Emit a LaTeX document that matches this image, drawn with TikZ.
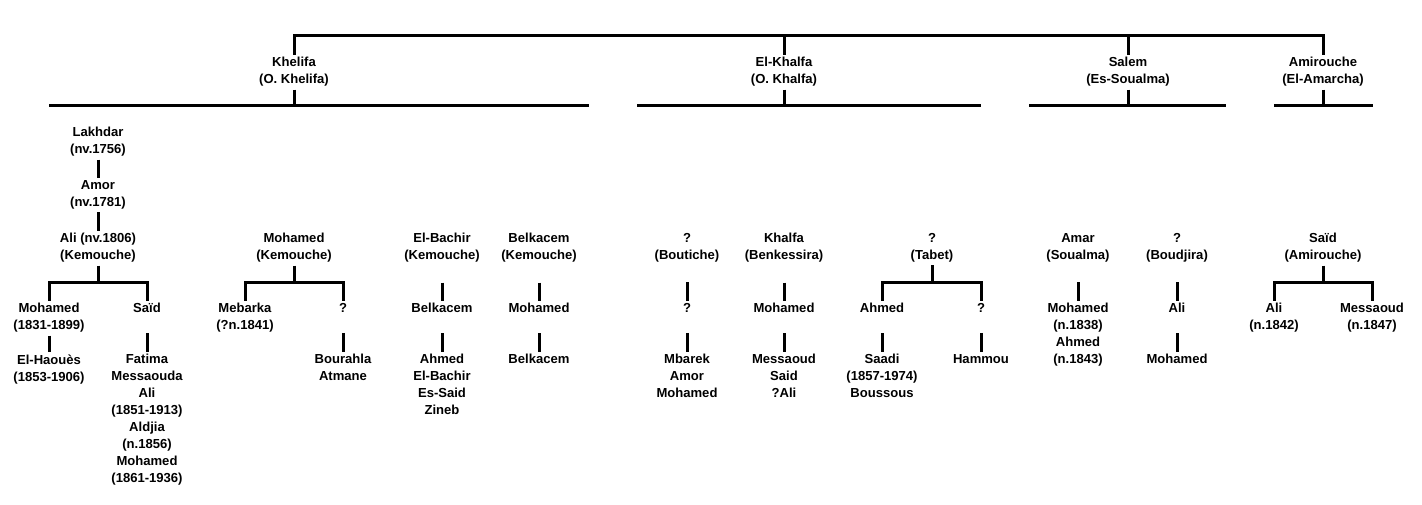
\documentclass[tikz,border=0pt]{standalone}
\usepackage{fontspec}
\setmainfont{Liberation Sans}
\begin{document}
\begin{tikzpicture}[x=0.75pt, y=-0.75pt,
  person/.style={anchor=north, align=center, inner xsep=1pt, inner ysep=2pt,
    font=\fontsize{9.8}{12.75}\selectfont\bfseries},
  link/.style={line width=2.25pt}]
\useasboundingbox (0,0) rectangle (1422,504);
% tribes
\node[person] (khelifa)   at (294,54.5)  {Khelifa\\(O. Khelifa)};
\node[person] (elkhalfa)  at (784,54.5)  {El-Khalfa\\(O. Khalfa)};
\node[person] (salem)     at (1128,54.5) {Salem\\(Es-Soualma)};
\node[person] (amirouche) at (1323,54.5) {Amirouche\\(El-Amarcha)};
\draw[link] (khelifa.north) -- ++(0,-19) -| (amirouche.north);
\draw[link] (elkhalfa.north) -- ++(0,-19);
\draw[link] (salem.north) -- ++(0,-19);
\coordinate (khL) at (49,105);   \coordinate (khR) at (589,105);
\coordinate (ekL) at (637,105);  \coordinate (ekR) at (981,105);
\coordinate (saL) at (1029,105); \coordinate (saR) at (1226,105);
\coordinate (amL) at (1274,105); \coordinate (amR) at (1373,105);
\draw[link] (khL) -- (khR);
\draw[link] (ekL) -- (ekR);
\draw[link] (saL) -- (saR);
\draw[link] (amL) -- (amR);
\draw[link] (khelifa.south) -- (khelifa.south |- khL);
\draw[link] (elkhalfa.south) -- (elkhalfa.south |- ekL);
\draw[link] (salem.south) -- (salem.south |- saL);
\draw[link] (amirouche.south) -- (amirouche.south |- amL);
% Kemouche
\node[person] (lakhdar) at (98,124.5) {Lakhdar\\(nv.1756)};
\node[person] (amor)    at (98,177.5) {Amor\\(nv.1781)};
\node[person] (aliK)    at (98,230.5) {Ali (nv.1806)\\(Kemouche)};
\draw[link] (lakhdar.south) -- (amor.north);
\draw[link] (amor.south) -- (aliK.north);
\node[person] (mohD)   at (49,300.5)  {Mohamed\\(1831-1899)};
\node[person] (saidD)  at (147,300.5) {Saïd};
\draw[link] (aliK.south) -- ++(0,17) coordinate (aliKbar);
\draw[link] (mohD.north) |- (aliKbar) -| (saidD.north);
\node[person] (haoues)   at (49,351.5)  {El-Haouès\\(1853-1906)};
\node[person] (saidKids) at (147,351.5) {Fatima\\Messaouda\\Ali\\(1851-1913)\\Aldjia\\(n.1856)\\Mohamed\\(1861-1936)};
\draw[link] (mohD.south) -- (haoues.north);
\draw[link] (saidD.south) ++(0,17.5) -- (saidKids.north);
\node[person] (mohK)    at (294,230.5) {Mohamed\\(Kemouche)};
\node[person] (mebarka) at (245,300.5) {Mebarka\\(?n.1841)};
\node[person] (unkD1)   at (343,300.5) {?};
\draw[link] (mohK.south) -- ++(0,17) coordinate (mohKbar);
\draw[link] (mebarka.north) |- (mohKbar) -| (unkD1.north);
\node[person] (bourahla) at (343,351.5) {Bourahla\\Atmane};
\draw[link] (unkD1.south) ++(0,17.5) -- (bourahla.north);
\node[person] (bachirK)    at (442,230.5) {El-Bachir\\(Kemouche)};
\node[person] (belkD)      at (442,300.5) {Belkacem};
\node[person] (bachirKids) at (442,351.5) {Ahmed\\El-Bachir\\Es-Said\\Zineb};
\draw[link] (bachirK.south) ++(0,17) -- (belkD.north);
\draw[link] (belkD.south) ++(0,17.5) -- (bachirKids.north);
\node[person] (belkK) at (539,230.5) {Belkacem\\(Kemouche)};
\node[person] (mohD2) at (539,300.5) {Mohamed};
\node[person] (belkE) at (539,351.5) {Belkacem};
\draw[link] (belkK.south) ++(0,17) -- (mohD2.north);
\draw[link] (mohD2.south) ++(0,17.5) -- (belkE.north);
% O. Khalfa
\node[person] (boutiche) at (687,230.5) {?\\(Boutiche)};
\node[person] (unkD2)    at (687,300.5) {?};
\node[person] (boutKids) at (687,351.5) {Mbarek\\Amor\\Mohamed};
\draw[link] (boutiche.south) ++(0,17) -- (unkD2.north);
\draw[link] (unkD2.south) ++(0,17.5) -- (boutKids.north);
\node[person] (khalfa)     at (784,230.5) {Khalfa\\(Benkessira)};
\node[person] (mohD3)      at (784,300.5) {Mohamed};
\node[person] (khalfaKids) at (784,351.5) {Messaoud\\Said\\?Ali};
\draw[link] (khalfa.south) ++(0,17) -- (mohD3.north);
\draw[link] (mohD3.south) ++(0,17.5) -- (khalfaKids.north);
\node[person] (tabet)  at (932,230.5) {?\\(Tabet)};
\node[person] (ahmedD) at (882,300.5) {Ahmed};
\node[person] (unkD3)  at (981,300.5) {?};
\draw[link] (tabet.south) -- ++(0,17) coordinate (tabetbar);
\draw[link] (ahmedD.north) |- (tabetbar) -| (unkD3.north);
\node[person] (saadi)  at (882,351.5) {Saadi\\(1857-1974)\\Boussous};
\node[person] (hammou) at (981,351.5) {Hammou};
\draw[link] (ahmedD.south) ++(0,17.5) -- (saadi.north);
\draw[link] (unkD3.south) ++(0,17.5) -- (hammou.north);
% Es-Soualma
\node[person] (amar)  at (1078,230.5) {Amar\\(Soualma)};
\node[person] (mohAm) at (1078,300.5) {Mohamed\\(n.1838)\\Ahmed\\(n.1843)};
\draw[link] (amar.south) ++(0,17) -- (mohAm.north);
\node[person] (boudjira) at (1177,230.5) {?\\(Boudjira)};
\node[person] (aliD)     at (1177,300.5) {Ali};
\node[person] (mohBoud)  at (1177,351.5) {Mohamed};
\draw[link] (boudjira.south) ++(0,17) -- (aliD.north);
\draw[link] (aliD.south) ++(0,17.5) -- (mohBoud.north);
% El-Amarcha
\node[person] (saidA)  at (1323,230.5) {Saïd\\(Amirouche)};
\node[person] (aliAm)  at (1274,300.5) {Ali\\(n.1842)};
\node[person] (messAm) at (1372,300.5) {Messaoud\\(n.1847)};
\draw[link] (saidA.south) -- ++(0,17) coordinate (saidAbar);
\draw[link] (aliAm.north) |- (saidAbar) -| (messAm.north);
\end{tikzpicture}
\end{document}
